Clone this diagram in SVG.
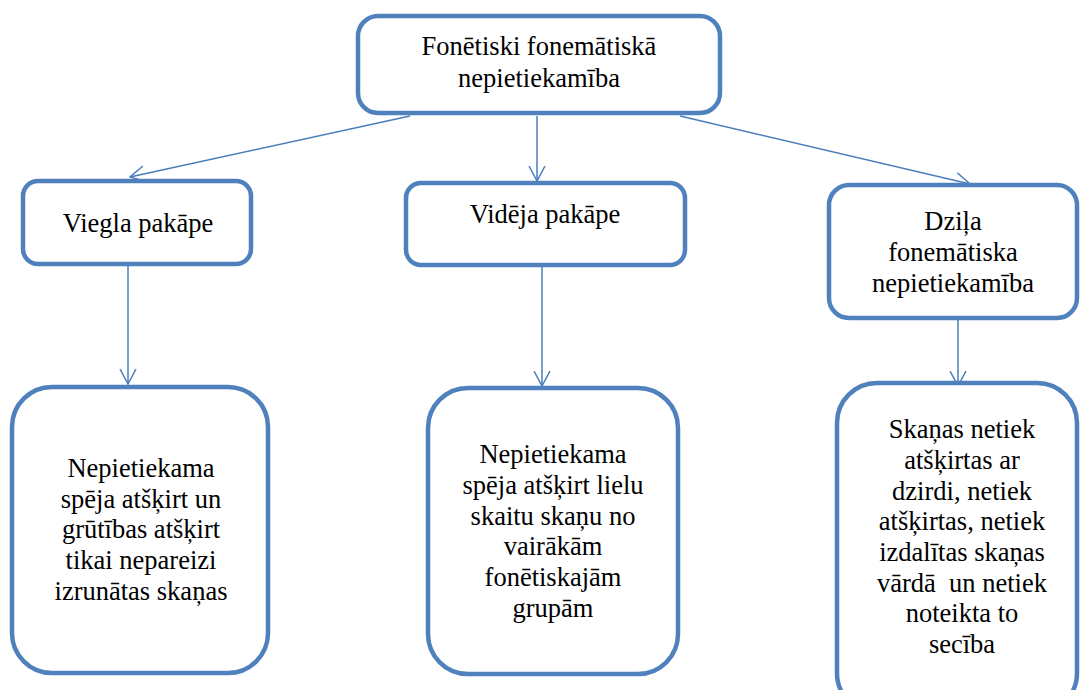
<svg xmlns="http://www.w3.org/2000/svg" width="1081" height="690" viewBox="0 0 1081 690">
<style>
.box{fill:#fff;stroke:#4f81bd;stroke-width:4.5}
.t{font-family:"Liberation Serif","Times New Roman",serif;font-size:26.5px;fill:#000;text-anchor:middle}
.c{stroke:#4a7ebb;stroke-width:1.5;fill:none}
</style>
<defs>
<marker id="ah" viewBox="0 0 16 18" refX="15" refY="9" markerWidth="16" markerHeight="18" markerUnits="userSpaceOnUse" orient="auto">
<path d="M0,1 L15,9 L0,17" fill="none" stroke="#4a7ebb" stroke-width="1.5"/>
</marker>
</defs>
<rect width="1081" height="690" fill="#fff"/>
<g id="connectors">
<line class="c" x1="410" y1="116" x2="130" y2="177" marker-end="url(#ah)"/>
<line class="c" x1="537" y1="116" x2="537" y2="181" marker-end="url(#ah)"/>
<line class="c" x1="680" y1="116" x2="970" y2="184" marker-end="url(#ah)"/>
<line class="c" x1="128" y1="266" x2="128" y2="384" marker-end="url(#ah)"/>
<line class="c" x1="542" y1="266" x2="542" y2="386" marker-end="url(#ah)"/>
<line class="c" x1="958" y1="320" x2="958" y2="386" marker-end="url(#ah)"/>
</g>
<g id="root">
<rect class="box" x="358" y="16" width="362" height="97" rx="20"/>
<text class="t" x="539" y="55">Fonētiski fonemātiskā</text>
<text class="t" x="539" y="87">nepietiekamība</text>
</g>
<g id="viegla">
<rect class="box" x="23" y="181" width="228" height="83" rx="15"/>
<text class="t" x="138" y="232">Viegla pakāpe</text>
</g>
<g id="videja">
<rect class="box" x="406" y="183" width="279" height="82" rx="15"/>
<text class="t" x="545" y="223">Vidēja pakāpe</text>
</g>
<g id="dzila">
<rect class="box" x="829" y="185" width="248" height="133" rx="20"/>
<text class="t" x="953" y="230">Dziļa</text>
<text class="t" x="953" y="261">fonemātiska</text>
<text class="t" x="953" y="292">nepietiekamība</text>
</g>
<g id="viegla-desc">
<rect class="box" x="12" y="387" width="256" height="286" rx="40"/>
<text class="t" x="141" y="477">Nepietiekama</text>
<text class="t" x="141" y="508">spēja atšķirt un</text>
<text class="t" x="141" y="538">grūtības atšķirt</text>
<text class="t" x="141" y="569">tikai nepareizi</text>
<text class="t" x="141" y="600">izrunātas skaņas</text>
</g>
<g id="videja-desc">
<rect class="box" x="428" y="388" width="250" height="286" rx="40"/>
<text class="t" x="553" y="463">Nepietiekama</text>
<text class="t" x="553" y="494">spēja atšķirt lielu</text>
<text class="t" x="553" y="525">skaitu skaņu no</text>
<text class="t" x="553" y="555">vairākām</text>
<text class="t" x="553" y="586">fonētiskajām</text>
<text class="t" x="553" y="617">grupām</text>
</g>
<g id="dzila-desc">
<rect class="box" x="837" y="383" width="240" height="330" rx="40"/>
<text class="t" x="962" y="438">Skaņas netiek</text>
<text class="t" x="962" y="469">atšķirtas ar</text>
<text class="t" x="962" y="500">dzirdi, netiek</text>
<text class="t" x="962" y="530">atšķirtas, netiek</text>
<text class="t" x="962" y="561">izdalītas skaņas</text>
<text class="t" x="962" y="592" xml:space="preserve">vārdā  un netiek</text>
<text class="t" x="962" y="622">noteikta to</text>
<text class="t" x="962" y="653">secība</text>
</g>
</svg>
